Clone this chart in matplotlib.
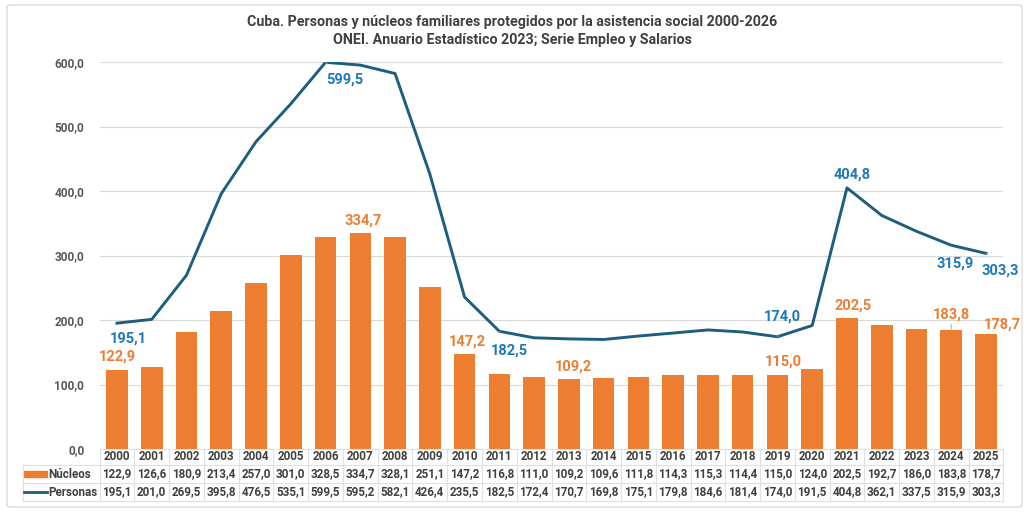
import matplotlib
matplotlib.use("Agg")
import matplotlib.pyplot as plt
import matplotlib.transforms as mtransforms
from matplotlib.patches import Rectangle, FancyBboxPatch
from matplotlib.lines import Line2D

plt.rcParams['font.family'] = ['Roboto', 'DejaVu Sans']

years = [str(y) for y in range(2000, 2026)]
nucleos = [122.9, 126.6, 180.9, 213.4, 257.0, 301.0, 328.5, 334.7, 328.1, 251.1, 147.2, 116.8,
           111.0, 109.2, 109.6, 111.8, 114.3, 115.3, 114.4, 115.0, 124.0, 202.5, 192.7, 186.0,
           183.8, 178.7]
personas = [195.1, 201.0, 269.5, 395.8, 476.5, 535.1, 599.5, 595.2, 582.1, 426.4, 235.5, 182.5,
            172.4, 170.7, 169.8, 175.1, 179.8, 184.6, 181.4, 174.0, 191.5, 404.8, 362.1, 337.5,
            315.9, 303.3]
series_names = ["Núcleos", "Personas"]
title = ("Cuba. Personas y núcleos familiares protegidos por la asistencia social 2000-2026\n"
         "ONEI. Anuario Estadístico 2023; Serie Empleo y Salarios")

# labelled points: index -> (dx px, dy px, leader)
blue_labels = {0: (11, -15, False), 6: (19, -17, True), 11: (10, -19, True), 19: (5, 20, True),
               21: (5, 13, False), 24: (4, -18, True), 25: (14, -17, True)}
orange_labels = {0: (0, 13, False), 7: (3, 13, False), 10: (3, 12, False), 13: (4, 12, False),
                 19: (6, 13, False), 21: (6, 13, False), 24: (0, 16, True), 25: (16, 9, False)}

ORANGE = "#ED7D31"
LINE = "#1D5E7E"
BLUE_TXT = "#1F78B8"
GRID = "#D9D9D9"
TXT = "#404040"

def fmt(v):
    return f"{v:.1f}".replace(".", ",")

W, H = 1024, 512
fig = plt.figure(figsize=(W / 100, H / 100), dpi=100)

# outer frame
fig.patches.append(FancyBboxPatch((7 / W, 5 / H), 1015 / W, 502 / H,
                                  boxstyle="round,pad=0,rounding_size=0.004",
                                  transform=fig.transFigure, fill=False,
                                  edgecolor=GRID, lw=0.9))

ax = fig.add_axes([99.6 / W, 1 - 449 / H, (1003.4 - 99.6) / W, (449 - 62) / H])
x = list(range(len(years)))
ax.bar(x, nucleos, width=0.62, color=ORANGE, zorder=2)
ax.plot(x, personas, color=LINE, lw=2.1, zorder=3, solid_joinstyle='round')
ax.set_xlim(-0.5, len(years) - 0.5)
ax.set_ylim(0, 600)
ax.set_yticks(range(0, 601, 100))
ax.set_yticklabels([fmt(v) for v in range(0, 601, 100)], fontsize=8.6, fontweight='bold', color="#595959")
ax.tick_params(axis='y', length=0, pad=11)
ax.tick_params(axis='x', length=0, labelbottom=False)
ax.grid(axis='y', color=GRID, lw=0.8, zorder=0)
for s in ax.spines.values():
    s.set_visible(False)

PT = 72 / 100
for i, (dx, dy, lead) in blue_labels.items():
    ax.annotate(fmt(personas[i]), (i, personas[i]), xytext=(dx * PT, dy * PT),
                textcoords='offset points', ha='center', va='center', fontsize=10.5,
                fontweight='bold', color=BLUE_TXT, zorder=5,
                arrowprops=dict(arrowstyle='-', color='#A6A6A6', lw=0.6, shrinkA=6, shrinkB=0) if lead else None)
for i, (dx, dy, lead) in orange_labels.items():
    ax.annotate(fmt(nucleos[i]), (i, nucleos[i]), xytext=(dx * PT, dy * PT),
                textcoords='offset points', ha='center', va='center', fontsize=10.5,
                fontweight='bold', color=ORANGE, zorder=5,
                arrowprops=dict(arrowstyle='-', color='#A6A6A6', lw=0.6, shrinkA=6, shrinkB=0) if lead else None)

# data table
tr = mtransforms.blended_transform_factory(ax.transData, fig.transFigure)
px2data = (len(years)) / (1003.4 - 99.6)
left_x = -0.5 - (99.6 - 23) * px2data
right_x = len(years) - 0.5
rows = [449, 465, 483, 501]
fy = lambda p: 1 - p / H
tcol = "#E0E0E0"
for k, r in enumerate(rows):
    x0 = -0.5 if k == 0 else left_x
    fig.add_artist(Line2D([x0, right_x], [fy(r), fy(r)], transform=tr, color=tcol, lw=0.8))
for j in range(len(years) + 1):
    fig.add_artist(Line2D([j - 0.5, j - 0.5], [fy(rows[0]), fy(rows[-1])], transform=tr, color=tcol, lw=0.8))
fig.add_artist(Line2D([left_x, left_x], [fy(rows[1]), fy(rows[-1])], transform=tr, color=tcol, lw=0.8))

tkw = dict(transform=tr, ha='center', va='center', fontsize=8.4, fontweight='bold', color=TXT)
for j, yr in enumerate(years):
    fig.text(j, fy((rows[0] + rows[1]) / 2), yr, **tkw)
    fig.text(j, fy((rows[1] + rows[2]) / 2), fmt(nucleos[j]), **tkw)
    fig.text(j, fy((rows[2] + rows[3]) / 2), fmt(personas[j]), **tkw)

# legend keys
key_x0 = left_x + 1.5 * px2data
key_x1 = left_x + 24 * px2data
ym1 = fy((rows[1] + rows[2]) / 2)
ym2 = fy((rows[2] + rows[3]) / 2)
fig.patches.append(Rectangle((key_x0, ym1 - 3 / H), key_x1 - key_x0, 6 / H, transform=tr,
                             color=ORANGE))
fig.add_artist(Line2D([key_x0, key_x1], [ym2, ym2], transform=tr, color=LINE, lw=2.0))
lkw = dict(transform=tr, ha='left', va='center', fontsize=8.4, fontweight='bold', color=TXT)
fig.text(left_x + 25 * px2data, ym1, series_names[0], **lkw)
fig.text(left_x + 25 * px2data, ym2, series_names[1], **lkw)

fig.text(0.5, 1 - 31 / H, title, ha='center', va='center', fontsize=10.3, fontweight='bold',
         color=TXT, linespacing=1.35)

fig.savefig("out.png", dpi=100)
